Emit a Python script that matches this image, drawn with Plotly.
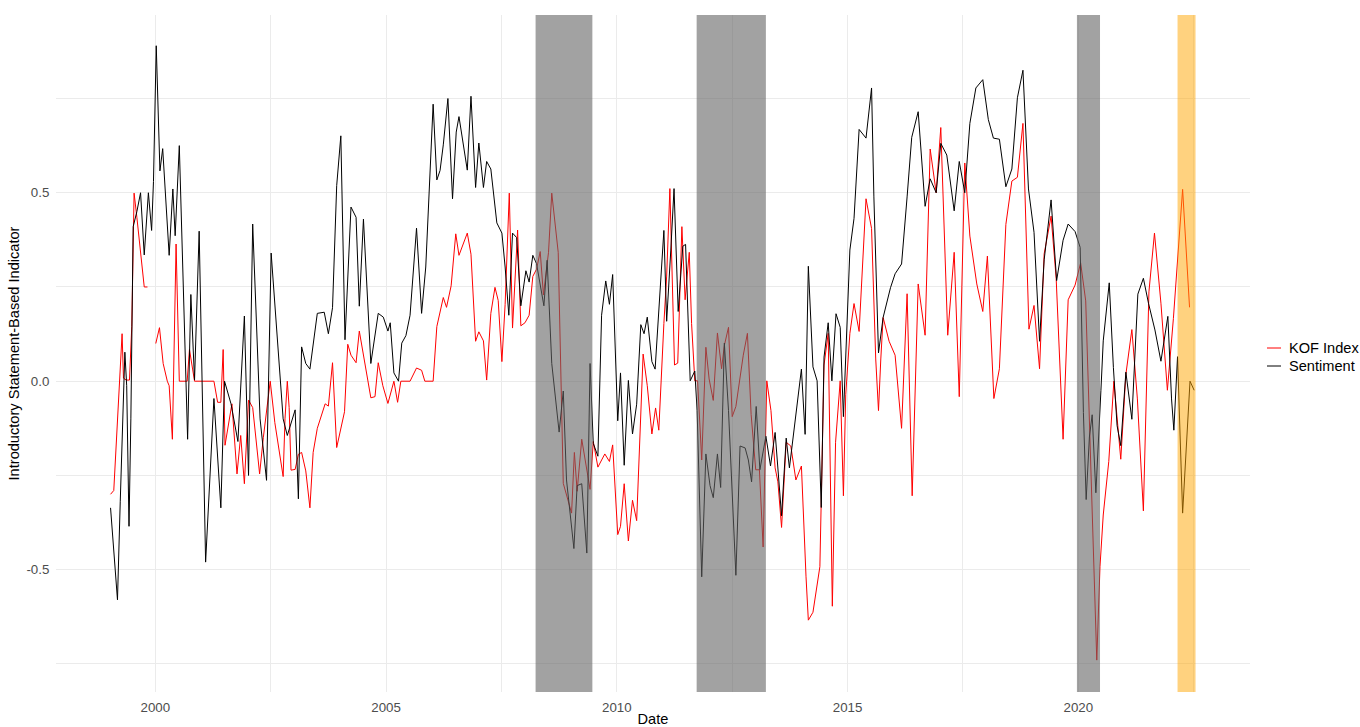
import plotly.graph_objects as go

# ---------------- data ----------------
sent_x = [
    1999.03, 1999.18, 1999.24, 1999.34, 1999.38, 1999.43, 1999.47, 1999.52, 1999.60, 1999.68,
    1999.76, 1999.85, 1999.92, 1999.96, 2000.02, 2000.05, 2000.10, 2000.16, 2000.30, 2000.38,
    2000.43, 2000.52, 2000.70, 2000.77, 2000.85, 2000.95, 2001.09, 2001.27, 2001.42, 2001.50,
    2001.64, 2001.79, 2001.93, 2002.02, 2002.11, 2002.27, 2002.41, 2002.51,
    2002.77, 2002.86, 2002.92, 2003.03, 2003.10, 2003.17, 2003.26, 2003.35, 2003.51, 2003.66,
    2003.75, 2003.84, 2003.93, 2004.02, 2004.11, 2004.24, 2004.35, 2004.42, 2004.51, 2004.67,
    2004.83, 2004.94, 2005.04, 2005.09, 2005.17, 2005.27, 2005.34, 2005.43, 2005.52, 2005.66,
    2005.77, 2005.86, 2006.02, 2006.10, 2006.17, 2006.24, 2006.34, 2006.44, 2006.52, 2006.58,
    2006.76, 2006.84, 2006.94,
    2007.01, 2007.11, 2007.18, 2007.27, 2007.40, 2007.51, 2007.58, 2007.66, 2007.74, 2007.83,
    2007.92, 2008.03, 2008.10, 2008.18, 2008.26, 2008.42, 2008.49, 2008.59, 2008.75, 2008.84,
    2008.91, 2009.07, 2009.14, 2009.24, 2009.35, 2009.42, 2009.49, 2009.59, 2009.67, 2009.76,
    2009.84, 2009.91, 2010.02, 2010.08, 2010.16, 2010.25, 2010.34, 2010.43, 2010.52, 2010.59,
    2010.66, 2010.76, 2010.83,
    2011.02, 2011.08, 2011.17, 2011.24, 2011.33, 2011.43, 2011.49, 2011.59, 2011.69, 2011.74,
    2011.84, 2011.93, 2012.02, 2012.09, 2012.18, 2012.25, 2012.33, 2012.42, 2012.58, 2012.67,
    2012.78, 2012.85, 2012.92, 2013.02, 2013.10, 2013.17, 2013.23, 2013.33, 2013.43, 2013.57,
    2013.67, 2013.74, 2013.91, 2014.00, 2014.08, 2014.15, 2014.25, 2014.34, 2014.43, 2014.49,
    2014.58, 2014.66, 2014.75, 2014.84, 2014.91,
    2015.05, 2015.14, 2015.25, 2015.40, 2015.52, 2015.57, 2015.67, 2015.77, 2015.93, 2016.03,
    2016.17, 2016.29, 2016.39, 2016.53, 2016.68, 2016.79, 2016.92, 2017.02, 2017.15, 2017.31,
    2017.42, 2017.54, 2017.65, 2017.78, 2017.93, 2018.05, 2018.16, 2018.29, 2018.43, 2018.56,
    2018.68, 2018.80, 2018.92, 2019.04, 2019.16,
    2019.26, 2019.41, 2019.53, 2019.67, 2019.78, 2019.93, 2020.04, 2020.11, 2020.17, 2020.24,
    2020.30, 2020.38, 2020.49, 2020.54, 2020.67, 2020.76, 2020.84, 2020.92, 2021.03, 2021.16,
    2021.29, 2021.41, 2021.52, 2021.66, 2021.79, 2021.94, 2022.02, 2022.07, 2022.15, 2022.26,
    2022.42, 2022.51,
]
sent_y = [
    -0.336, -0.58, -0.32, 0.077, -0.012, -0.385, -0.10, 0.41, 0.45, 0.50,
    0.335, 0.50, 0.40, 0.53, 0.89, 0.78, 0.558, 0.617, 0.334, 0.51,
    0.386, 0.625, -0.154, 0.23, 0.003, 0.398, -0.48, -0.046, -0.336, 0.0,
    -0.06, -0.16, 0.173, -0.25, 0.417, -0.10, -0.263, 0.34,
    -0.10, -0.144, -0.12, -0.076, -0.312, 0.091, 0.047, 0.032, 0.18, 0.183,
    0.126, 0.195, 0.519, 0.651, 0.11, 0.462, 0.435, 0.199, 0.43, 0.047,
    0.18, 0.170, 0.133, 0.155, 0.022, 0.0, 0.101, 0.121, 0.175, 0.406,
    0.18, 0.303, 0.735, 0.534, 0.559, 0.627, 0.75, 0.484, 0.661, 0.702,
    0.56, 0.756, 0.514,
    0.632, 0.514, 0.583, 0.563, 0.420, 0.393, 0.303, 0.175, 0.393, 0.381,
    0.200, 0.293, 0.263, 0.334, 0.312, 0.200, 0.321, 0.047, -0.135, -0.026,
    -0.262, -0.444, -0.277, -0.272, -0.456, 0.047, -0.165, -0.199, 0.175, 0.266,
    0.204, 0.283, -0.105, 0.022, -0.223, 0.002, -0.140, -0.061, 0.150, 0.126,
    0.170, 0.052, 0.032,
    0.40, 0.159, 0.348, 0.511, 0.185, 0.358, 0.363, 0.001, 0.027, -0.078,
    -0.519, -0.193, -0.277, -0.309, -0.193, -0.282, 0.101, -0.078, -0.515, -0.172,
    -0.177, -0.209, -0.267, -0.067, -0.235, -0.183, -0.146, -0.225, -0.136, -0.357,
    -0.151, -0.230, -0.062, 0.032, -0.141, 0.305, 0.038, 0.001, -0.335, 0.064,
    0.155, 0.001, 0.179, 0.143, -0.094,
    0.348, 0.432, 0.668, 0.645, 0.778, 0.489, 0.075, 0.169, 0.248, 0.285,
    0.311, 0.489, 0.647, 0.715, 0.464, 0.537, 0.500, 0.631, 0.600, 0.452,
    0.583, 0.500, 0.684, 0.778, 0.800, 0.694, 0.645, 0.642, 0.516, 0.563,
    0.752, 0.825, 0.51, 0.395, 0.106,
    0.322, 0.481, 0.267, 0.374, 0.417, 0.397, 0.355, -0.083, -0.314, -0.148,
    -0.089, -0.296, -0.024, 0.107, 0.261, 0.036, -0.118, -0.171, 0.024, -0.101,
    0.231, 0.273, 0.207, 0.136, 0.053, 0.172, -0.047, -0.130, 0.065, -0.350,
    0.0, -0.024,
]

kof_x = [
    1999.03, 1999.10, 1999.28, 1999.31, 1999.37, 1999.44, 1999.49, 1999.54, 1999.60, 1999.68,
    1999.76, 1999.83, None,
    2000.01, 2000.09, 2000.17, 2000.26, 2000.30, 2000.37, 2000.45, 2000.52, 2000.69, 2000.74,
    2000.85, 2001.27, 2001.35, 2001.42, 2001.47, 2001.51, 2001.66, 2001.77, 2001.85, 2001.93,
    2002.02, 2002.11, 2002.26, 2002.34, 2002.49, 2002.59,
    2002.77, 2002.81, 2002.86, 2002.90, 2002.94, 2003.03, 2003.10, 2003.17, 2003.26, 2003.35,
    2003.42, 2003.51, 2003.68, 2003.75, 2003.84, 2003.93, 2004.10, 2004.17, 2004.24, 2004.35,
    2004.42, 2004.51, 2004.67, 2004.76, 2004.83, 2004.93, 2005.04, 2005.17, 2005.25, 2005.32,
    2005.52, 2005.66, 2005.77, 2005.84, 2006.02, 2006.10, 2006.24, 2006.31, 2006.41, 2006.51,
    2006.58, 2006.76, 2006.84, 2006.94,
    2007.01, 2007.11, 2007.18, 2007.27, 2007.36, 2007.43, 2007.51, 2007.58, 2007.67, 2007.74,
    2007.85, 2007.92, 2008.01, 2008.10, 2008.18, 2008.26, 2008.34, 2008.41, 2008.52, 2008.59,
    2008.73, 2008.84, 2009.02, 2009.08, 2009.14, 2009.24, 2009.42, 2009.49, 2009.59, 2009.74,
    2009.84, 2009.91, 2010.02, 2010.08, 2010.16, 2010.25, 2010.34, 2010.43, 2010.57, 2010.66,
    2010.76, 2010.84, 2010.91,
    2011.02, 2011.08, 2011.15, 2011.25, 2011.32, 2011.41, 2011.48, 2011.57, 2011.62, 2011.69,
    2011.75, 2011.84, 2011.93, 2012.00, 2012.09, 2012.18, 2012.27, 2012.33, 2012.42, 2012.50,
    2012.58, 2012.74, 2012.83, 2012.91, 2013.01, 2013.09, 2013.17, 2013.25, 2013.34, 2013.43,
    2013.49, 2013.57, 2013.67, 2013.77, 2013.88, 2014.00, 2014.10, 2014.15, 2014.25, 2014.40,
    2014.49, 2014.58, 2014.67, 2014.74, 2014.84, 2014.91, 2014.96,
    2015.05, 2015.14, 2015.25, 2015.40, 2015.52, 2015.61, 2015.67, 2015.72, 2015.77, 2015.90,
    2016.03, 2016.17, 2016.29, 2016.40, 2016.53, 2016.68, 2016.79, 2016.92, 2017.02, 2017.17,
    2017.31, 2017.42, 2017.54, 2017.65, 2017.80, 2017.93, 2018.03, 2018.17, 2018.29, 2018.43,
    2018.56, 2018.68, 2018.80, 2018.93, 2019.04, 2019.16,
    2019.26, 2019.41, 2019.52, 2019.67, 2019.78, 2019.93, 2020.05, 2020.16, 2020.29, 2020.40,
    2020.47, 2020.54, 2020.66, 2020.77, 2020.92, 2021.03, 2021.16, 2021.28, 2021.41, 2021.53,
    2021.65, 2021.79, 2021.93, 2022.06, 2022.26, 2022.41,
]
kof_y = [
    -0.30, -0.29, 0.126, 0.008, 0.003, 0.003, 0.145, 0.499, 0.435, 0.34,
    0.25, 0.25, None,
    0.10, 0.142, 0.047, 0.0, -0.012, -0.154, 0.364, 0.0, 0.0, 0.084,
    0.0, 0.0, -0.056, -0.056, 0.084, -0.17, -0.06, -0.246, -0.144, -0.272,
    -0.05, -0.07, -0.246, -0.15, 0.0, -0.11,
    -0.253, -0.10, 0.0, -0.07, -0.236, -0.234, -0.194, -0.189, -0.238, -0.336,
    -0.189, -0.125, -0.06, -0.066, 0.049, -0.176, -0.081, 0.098, 0.069, 0.049,
    0.133, 0.067, -0.044, -0.041, 0.049, -0.012, -0.059, 0.0, -0.056, 0.0,
    0.0, 0.035, 0.029, 0.0, 0.0, 0.145, 0.222, 0.196, 0.253, 0.391,
    0.334, 0.393, 0.337, 0.106,
    0.131, 0.107, 0.003, 0.18, 0.249, 0.214, 0.052, 0.204, 0.499, 0.141,
    0.401, 0.147, 0.155, 0.175, 0.278, 0.297, 0.344, 0.229, 0.342, 0.499,
    0.342, -0.271, -0.35, -0.189, -0.292, -0.154, -0.287, -0.160, -0.228, -0.193,
    -0.213, -0.169, -0.407, -0.385, -0.272, -0.424, -0.316, -0.37, 0.072, -0.012,
    -0.140, -0.071, -0.130,
    0.153, 0.279, 0.511, 0.043, 0.048, 0.410, 0.216, 0.342, 0.153, 0.001,
    0.001, -0.209, 0.090, 0.006, -0.051, 0.128, 0.033, 0.095, 0.143, -0.094,
    -0.067, 0.069, 0.127, -0.088, -0.235, -0.235, -0.440, 0.001, -0.078, -0.230,
    -0.267, -0.388, -0.162, -0.172, -0.262, -0.225, -0.519, -0.634, -0.613, -0.492,
    0.043, 0.127, -0.597, -0.162, 0.001, -0.304, -0.036,
    0.127, 0.206, 0.132, 0.484, 0.405, 0.059, -0.078, 0.059, 0.169, 0.106,
    0.069, -0.125, 0.232, -0.304, 0.258, 0.122, 0.616, 0.500, 0.673, 0.122,
    0.342, -0.041, 0.579, 0.385, 0.258, 0.185, 0.332, -0.046, 0.033, 0.416,
    0.531, 0.541, 0.684, 0.138, 0.201, 0.033,
    0.338, 0.438, 0.273, -0.154, 0.216, 0.255, 0.314, 0.213, -0.320, -0.74,
    -0.491, -0.355, -0.213, 0.0, -0.207, 0.018, 0.137, -0.047, -0.344, 0.237,
    0.393, 0.207, -0.024, 0.166, 0.509, 0.196,
]

recession_start = [2008.24, 2011.73, 2019.97]
recession_end = [2009.47, 2013.23, 2020.47]
war_start = [2022.15]
war_end = [2022.54]

year_ticks = [2000, 2005, 2010, 2015, 2020]
year_labels = ["2000", "2005", "2010", "2015", "2020"]
y_ticks = [-0.5, 0.0, 0.5]
y_labels = ["-0.5", "0.0", "0.5"]

series_names = ["KOF Index", "Sentiment"]
series_colors = ["#FF0000", "#000000"]

# ---------------- figure ----------------
FONT = "Liberation Sans, Arial, Helvetica, sans-serif"
GRID = "#EBEBEB"
TICK_SIZE = 13.3
TITLE_SIZE = 14.6

W, H = 1360, 727
ML, MR, MT, MB = 56, 110, 15, 35
PW, PH = W - ML - MR, H - MT - MB


def px_to_paper_x(px):
    return (px - ML) / PW


def px_to_paper_y(py):
    return (H - MB - py) / PH


fig = go.Figure()
series = [(kof_x, kof_y), (sent_x, sent_y)]
for (xs, ys), name, col in zip(series, series_names, series_colors):
    fig.add_trace(go.Scatter(x=xs, y=ys, mode="lines", name=name,
                             line=dict(color=col, width=1), connectgaps=False,
                             showlegend=False))

for x0, x1 in zip(recession_start, recession_end):
    fig.add_shape(type="rect", xref="x", yref="paper", x0=x0, x1=x1, y0=0, y1=1,
                  fillcolor="rgba(100,100,100,0.6)", line=dict(width=0), layer="above")
for x0, x1 in zip(war_start, war_end):
    fig.add_shape(type="rect", xref="x", yref="paper", x0=x0, x1=x1, y0=0, y1=1,
                  fillcolor="rgba(255,165,0,0.5)", line=dict(width=0), layer="above")

# legend (ggplot-style: short key line, label to the right)
LEG_KEY_X0, LEG_KEY_X1, LEG_TEXT_X = 1267, 1281, 1287
LEG_Y0, LEG_DY = 348, 18
for i, (name, col) in enumerate(zip(series_names, series_colors)):
    yc = px_to_paper_y(LEG_Y0 + i * LEG_DY)
    fig.add_shape(type="line", xref="paper", yref="paper",
                  x0=px_to_paper_x(LEG_KEY_X0), x1=px_to_paper_x(LEG_KEY_X1),
                  y0=yc, y1=yc, line=dict(color=col, width=1))
    fig.add_annotation(xref="paper", yref="paper", x=px_to_paper_x(LEG_TEXT_X), y=yc,
                       xanchor="left", yanchor="middle", showarrow=False, text=name,
                       font=dict(size=TITLE_SIZE, color="black", family=FONT))

fig.update_layout(
    width=W, height=H,
    margin=dict(l=ML, r=MR, t=MT, b=MB, autoexpand=False),
    paper_bgcolor="white", plot_bgcolor="white",
    font=dict(family=FONT, color="black"),
    showlegend=False,
    xaxis=dict(
        range=[1997.848, 2023.72], automargin=False,
        tickvals=year_ticks, ticktext=year_labels,
        tickfont=dict(size=TICK_SIZE, color="#4D4D4D", family=FONT),
        ticks="outside", ticklen=3, tickcolor="rgba(0,0,0,0)",
        showgrid=True, gridcolor=GRID, gridwidth=1.1,
        minor=dict(tick0=2000, dtick=2.5, showgrid=True, gridcolor=GRID, gridwidth=0.55),
        zeroline=False, showline=False,
        title=dict(text="Date", font=dict(size=TITLE_SIZE, color="black", family=FONT), standoff=3),
    ),
    yaxis=dict(
        range=[-0.8246, 0.9716], automargin=False,
        tickvals=y_ticks, ticktext=y_labels,
        tickfont=dict(size=TICK_SIZE, color="#4D4D4D", family=FONT),
        ticks="outside", ticklen=3, tickcolor="rgba(0,0,0,0)",
        showgrid=True, gridcolor=GRID, gridwidth=1.1,
        minor=dict(tick0=0, dtick=0.25, showgrid=True, gridcolor=GRID, gridwidth=0.55),
        zeroline=False, showline=False,
        title=dict(text="Introductory Statement-Based Indicator",
                   font=dict(size=TITLE_SIZE, color="black", family=FONT), standoff=3),
    ),
)

fig.write_html("out.html")
